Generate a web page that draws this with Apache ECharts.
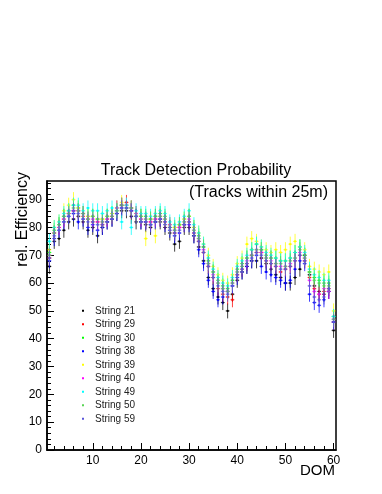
<!DOCTYPE html>
<html>
<head>
<meta charset="utf-8">
<script src="https://cdn.jsdelivr.net/npm/echarts@6/dist/echarts.min.js"></script>
<style>
  html, body { margin: 0; padding: 0; background: #fff; }
  #chart { width: 382px; height: 494px; }
</style>
</head>
<body>
<div id="chart"></div>
<script>
  // string names and ROOT colours
  var strings = ['String 21', 'String 29', 'String 30', 'String 38', 'String 39', 'String 40', 'String 49', 'String 50', 'String 59'];
  var colors = ['#000000', '#ff0000', '#00ff00', '#0000ff', '#ffff00', '#ff00ff', '#00ffff', '#59d454', '#5954d9'];

  // rel. efficiency per DOM (1..60)
  var s21 = [66,75,76,79,82,83,84,82,79,80, 77,80,82,83,85,86,86,84,82,82, 81,80,82,82,80,78,74,75,80,80, 77,73,68,62,58,55,53,50,56,61, 64,66,68,68,69,67,65,63,62,60, 60,62,65,70,63,59,57,56,57,43];
  var s29 = [69,78,80,83,85,86,86,84,83,82, 82,81,83,84,86,88,89,86,84,83, 82,82,83,83,82,80,78,80,81,82, 78,75,71,66,62,58,56,55,54,63, 65,67,70,71,71,68,67,66,64,65, 66,68,70,68,62,58,56,57,58,46];
  var s30 = [71,79,81,84,86,88,87,85,84,84, 83,83,84,85,87,88,88,87,85,84, 84,83,84,85,84,81,80,81,83,84, 80,77,73,68,64,61,59,58,61,65, 67,69,72,74,72,70,69,69,68,68, 69,71,73,70,64,62,61,60,60,48];
  var s38 = [68,76,79,82,84,85,82,83,80,81, 79,80,82,83,85,87,87,86,84,82, 82,81,82,83,81,79,77,78,81,81, 77,72,67,61,57,54,55,57,59,62, 64,66,68,70,66,64,63,62,61,60, 61,65,68,67,56,53,52,54,57,46];
  var s39 = [72,80,82,86,88,90,87,85,84,84, 83,83,84,85,87,89,88,87,85,84, 76,83,77,84,83,81,80,81,83,84, 80,78,74,70,66,63,61,60,63,67, 69,74,76,75,73,72,71,72,71,72, 74,75,73,72,66,65,64,63,64,50];
  var s40 = [70,78,80,83,85,86,86,85,83,83, 82,82,83,84,87,88,88,87,85,83, 83,82,83,84,83,81,79,80,82,83, 79,76,72,67,63,60,58,57,60,64, 66,68,70,72,71,69,68,67,66,66, 67,69,71,69,61,57,56,58,57,47];
  var s49 = [75,80,82,85,86,88,88,86,87,86, 86,85,86,87,86,82,88,80,86,85, 85,84,85,86,85,82,81,82,84,86, 81,78,74,69,65,62,60,59,62,66, 68,70,72,74,73,71,70,69,68,68, 69,71,73,71,65,63,62,61,61,48];
  var s50 = [70,78,81,84,85,87,86,85,83,84, 83,82,84,84,86,88,87,87,84,84, 83,83,84,84,83,80,79,81,82,84, 79,76,73,67,64,60,58,57,60,64, 66,69,70,72,72,69,69,67,67,66, 68,69,72,69,64,61,60,59,59,47];
  var s59 = [69,77,79,82,84,86,85,83,82,82, 81,81,82,83,85,87,87,86,84,82, 82,81,82,83,82,80,78,79,81,82, 78,75,71,66,62,59,57,56,59,63, 65,67,69,71,70,68,67,66,65,65, 66,68,70,68,59,55,54,55,58,46];
  var allValues = [s21, s29, s30, s38, s39, s40, s49, s50, s59];
  var errY = 2.7;   // vertical error (half length)
  var errX = 0.4;   // horizontal bar (half width)

  // axis ticks
  var xTicks = [10, 20, 30, 40, 50, 60];
  var xMinor = [2,4,6,8,12,14,16,18,22,24,26,28,32,34,36,38,42,44,46,48,52,54,56,58];
  var yTicks = [0, 10, 20, 30, 40, 50, 60, 70, 80, 90];
  var yMinor = [2,4,6,8,12,14,16,18,22,24,26,28,32,34,36,38,42,44,46,48,52,54,56,58,62,64,66,68,72,74,76,78,82,84,86,88,92,94,96];

  var font = 'Liberation Sans, Arial, Helvetica, sans-serif';

  function renderItem(params, api) {
    var x = api.value(0), y = api.value(1), e = api.value(2);
    var c = api.coord([x, y]);
    var top = api.coord([x, y + e]);
    var bot = api.coord([x, y - e]);
    var l = api.coord([x - errX, y]);
    var r = api.coord([x + errX, y]);
    var color = api.visual('color');
    return {
      type: 'group',
      children: [
        { type: 'line', shape: { x1: c[0], y1: top[1], x2: c[0], y2: bot[1] }, style: { stroke: color, lineWidth: 1, opacity: 0.75 } },
        { type: 'line', shape: { x1: l[0], y1: c[1], x2: r[0], y2: c[1] }, style: { stroke: color, lineWidth: 1, opacity: 0.75 } },
        { type: 'rect', shape: { x: c[0] - 1, y: c[1] - 1, width: 2, height: 2 }, style: { fill: color } }
      ]
    };
  }

  var series = strings.map(function (name, k) {
    return {
      name: name,
      type: 'custom',
      renderItem: renderItem,
      itemStyle: { color: colors[k] },
      encode: { x: 0, y: 1 },
      data: allValues[k].map(function (v, i) { return [i + 1, v, errY]; })
    };
  });

  var myChart = echarts.init(document.getElementById('chart'));
  var option = {
    animation: false,
    backgroundColor: '#fff',
    textStyle: { fontFamily: font },
    title: {
      text: 'Track Detection Probability',
      left: 191,
      top: 158,
      textAlign: 'center',
      textStyle: { fontFamily: font, fontSize: 16, fontWeight: 'normal', color: '#000' }
    },
    legend: {
      orient: 'vertical',
      left: 82,
      top: 304,
      padding: 0,
      itemGap: 0,
      itemWidth: 2,
      itemHeight: 2,
      icon: 'rect',
      data: strings,
      textStyle: { fontFamily: font, fontSize: 10, color: '#222', lineHeight: 13.5, padding: [0, 0, 0, 6] }
    },
    grid: {
      left: 47,
      right: 46,
      top: 181,
      bottom: 44,
      show: true,
      borderColor: '#000',
      borderWidth: 1.5
    },
    xAxis: [{
      type: 'value',
      min: 0.5,
      max: 60.5,
      axisLine: { show: true, lineStyle: { color: '#000', width: 1.5 } },
      axisTick: { show: true, inside: true, length: 7, customValues: xTicks, lineStyle: { color: '#000' } },
      axisLabel: { customValues: xTicks, margin: 5, fontSize: 12, color: '#000', fontFamily: font },
      splitLine: { show: false }
    }, {
      type: 'value',
      min: 0.5,
      max: 60.5,
      position: 'bottom',
      axisLine: { show: false },
      axisTick: { show: true, inside: true, length: 4, customValues: xMinor, lineStyle: { color: '#000' } },
      axisLabel: { show: false },
      splitLine: { show: false }
    }],
    yAxis: [{
      type: 'value',
      min: 0,
      max: 96.7,
      axisLine: { show: true, lineStyle: { color: '#000', width: 1.5 } },
      axisTick: { show: true, inside: true, length: 7, customValues: yTicks, lineStyle: { color: '#000' } },
      axisLabel: { customValues: yTicks, margin: 5, fontSize: 12, color: '#000', fontFamily: font },
      splitLine: { show: false }
    }, {
      type: 'value',
      min: 0,
      max: 96.7,
      position: 'left',
      axisLine: { show: false },
      axisTick: { show: true, inside: true, length: 4, customValues: yMinor, lineStyle: { color: '#000' } },
      axisLabel: { show: false },
      splitLine: { show: false }
    }],
    graphic: [
      { type: 'text', x: 328, y: 193, style: { text: '(Tracks within 25m)', font: '16px ' + font, fill: '#000', textAlign: 'right', textVerticalAlign: 'middle' } },
      { type: 'text', x: 23, y: 172, rotation: Math.PI / 2, style: { text: 'rel. Efficiency', font: '16px ' + font, fill: '#000', textAlign: 'right', textVerticalAlign: 'middle' } },
      { type: 'text', x: 335, y: 471, style: { text: 'DOM', font: '15px ' + font, fill: '#000', textAlign: 'right', textVerticalAlign: 'middle' } }
    ],
    series: series
  };
  myChart.setOption(option, true);
</script>
</body>
</html>
